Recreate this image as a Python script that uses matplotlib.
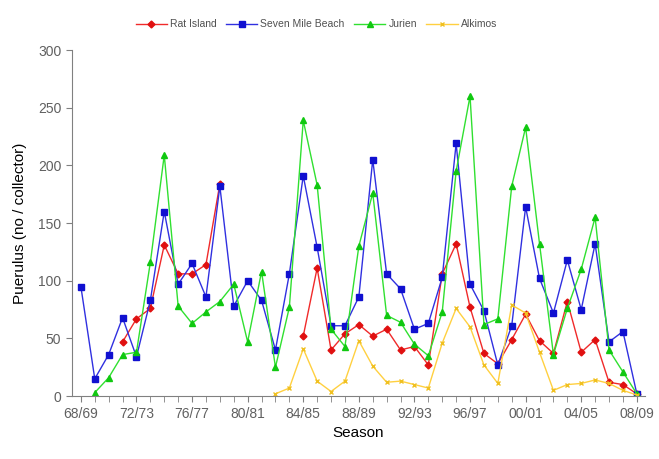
import numpy as np
import matplotlib
matplotlib.use("Agg")
import matplotlib.pyplot as plt

plt.rcParams['font.family'] = ['Liberation Sans', 'DejaVu Sans']

nan = np.nan

# seasons 68/69 .. 08/09
seasons = ["%02d/%02d" % (y % 100, (y + 1) % 100) for y in range(1968, 2009)]

rat_island = [nan, nan, nan, 47, 67, 76, 131, 106, 106, 114,
              184, nan, nan, nan, nan, nan, 52, 111, 40, 54,
              62, 52, 58, 40, 43, 27, 106, 132, 77, 37,
              28, 49, 71, 48, 37, 82, 38, 49, 12, 10, 2]
seven_mile = [95, 15, 36, 68, 34, 83, 160, 97, 115, 86,
              182, 78, 100, 83, 40, 106, 191, 129, 61, 61,
              86, 205, 106, 93, 58, 63, 103, 219, 97, 74,
              27, 61, 164, 102, 72, 118, 75, 132, 47, 56, 2]
jurien = [nan, 3, 16, 36, 38, 116, 209, 78, 63, 73,
          82, 97, 47, 108, 25, 77, 239, 183, 58, 43,
          130, 176, 70, 64, 45, 35, 73, 195, 260, 62,
          67, 182, 233, 132, 36, 76, 110, 155, 40, 21, 2]
alkimos = [nan, nan, nan, nan, nan, nan, nan, nan, nan, nan,
           nan, nan, nan, nan, 2, 7, 41, 13, 4, 13,
           48, 26, 12, 13, 10, 7, 46, 76, 60, 27,
           11, 79, 72, 38, 5, 10, 11, 14, 11, 5, 1]

x = np.arange(len(seasons))

fig = plt.figure(figsize=(6.59, 4.59), dpi=100)
ax = fig.add_axes([0.109, 0.137, 0.870, 0.754])

ax.plot(x, rat_island, color='#f02a2a', lw=1, marker='D', ms=3.5,
        mec='#e01010', mfc='#e01010', label='Rat Island')
ax.plot(x, seven_mile, color='#3030e0', lw=1, marker='s', ms=4.5,
        mec='#1010d0', mfc='#1010d0', label='Seven Mile Beach')
ax.plot(x, jurien, color='#30e030', lw=1, marker='^', ms=4.5,
        mec='#10c810', mfc='#10c810', label='Jurien')
ax.plot(x, alkimos, color='#ffd040', lw=1, marker='x', ms=3,
        mec='#f0c020', label='Alkimos')

ax.set_xlim(-0.65, 40.6)
ax.set_ylim(0, 300)
ax.set_yticks(range(0, 301, 50))
ax.set_xticks(x[::4])
ax.set_xticklabels(seasons[::4])
ax.set_xticks(x, minor=True)

for s in ['top', 'right']:
    ax.spines[s].set_visible(False)
for s in ['left', 'bottom']:
    ax.spines[s].set_color('#808080')
ax.tick_params(axis='both', colors='#808080', labelcolor='#606060',
               labelsize=10, direction='out', length=4)
ax.tick_params(axis='x', which='minor', colors='#808080', length=4)

ax.set_xlabel('Season', fontsize=11, labelpad=4)
ax.set_ylabel('Puerulus (no / collector)', fontsize=11, labelpad=8)

leg = fig.legend(loc='upper center', bbox_to_anchor=(0.48, 0.978), ncol=4,
                 frameon=False, fontsize=7.5, handlelength=3,
                 columnspacing=0.9, handletextpad=0.3)
for t in leg.get_texts():
    t.set_color('#505050')

fig.savefig('out.png', dpi=100)
